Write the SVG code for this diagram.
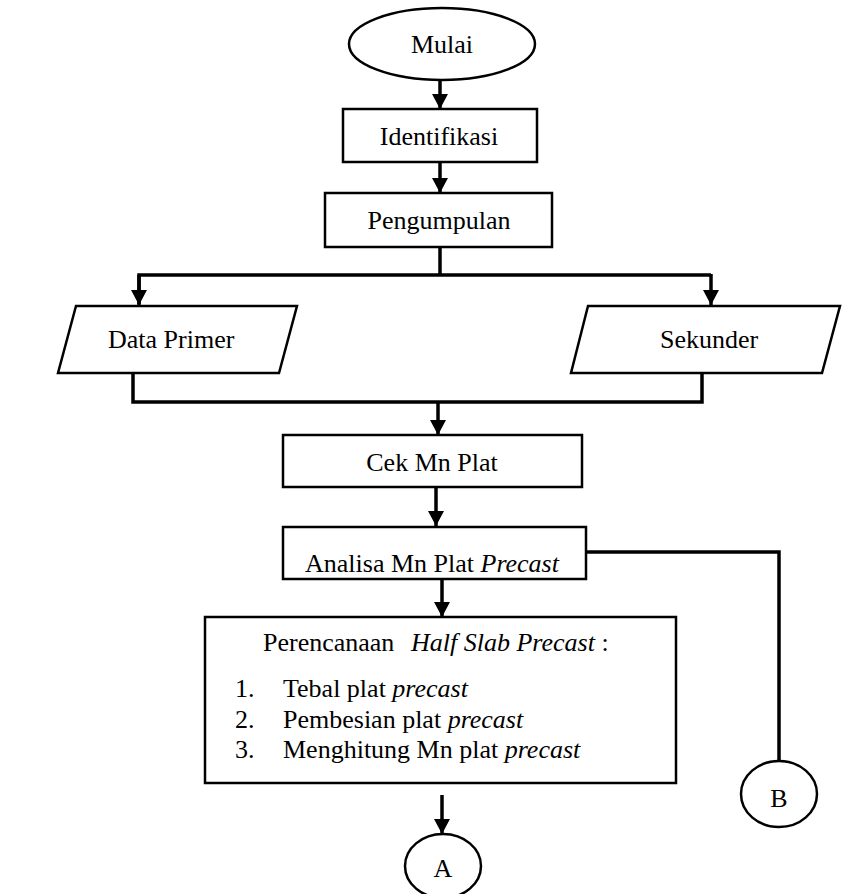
<svg xmlns="http://www.w3.org/2000/svg" width="849" height="894" viewBox="0 0 849 894">
<style>
  .shape { fill: #ffffff; stroke: #000000; stroke-width: 2.5; }
  .conn { fill: none; stroke: #000000; stroke-width: 3.5; }
  text { font-family: "Liberation Serif", "Times New Roman", serif; font-size: 26px; fill: #000000; }
  .c { text-anchor: middle; }
  .it { font-style: italic; }
</style>
<defs>
  <marker id="arrow" markerUnits="userSpaceOnUse" markerWidth="16" markerHeight="16" viewBox="0 0 16 16" refX="15" refY="8" orient="auto">
    <path d="M0,0 L15,8 L0,16 Z" fill="#000000"/>
  </marker>
</defs>
<rect width="849" height="894" fill="#ffffff"/>

<g id="connectors">
  <line class="conn" x1="440" y1="80" x2="440" y2="109" marker-end="url(#arrow)"/>
  <line class="conn" x1="440" y1="162" x2="440" y2="193" marker-end="url(#arrow)"/>
  <polyline class="conn" points="440,247 440,275"/>
  <polyline class="conn" points="139,304 139,275 711,275"/>
  <line class="conn" x1="139" y1="275" x2="139" y2="305" marker-end="url(#arrow)"/>
  <line class="conn" x1="711" y1="274" x2="711" y2="305" marker-end="url(#arrow)"/>
  <polyline class="conn" points="133,373 133,402 702,402 702,373"/>
  <line class="conn" x1="438" y1="402" x2="438" y2="435" marker-end="url(#arrow)"/>
  <line class="conn" x1="436" y1="487" x2="436" y2="526" marker-end="url(#arrow)"/>
  <line class="conn" x1="442" y1="579" x2="442" y2="617" marker-end="url(#arrow)"/>
  <polyline class="conn" points="586,552 779,552 779,761"/>
  <line class="conn" x1="442" y1="795" x2="442" y2="834" marker-end="url(#arrow)"/>
</g>

<g id="mulai">
  <ellipse class="shape" cx="442" cy="44" rx="93" ry="36"/>
  <text class="c" x="442" y="53">Mulai</text>
</g>
<g id="identifikasi">
  <rect class="shape" x="343" y="109" width="194" height="53"/>
  <text class="c" x="439" y="145">Identifikasi</text>
</g>
<g id="pengumpulan">
  <rect class="shape" x="325" y="193" width="227" height="54"/>
  <text class="c" x="439" y="229">Pengumpulan</text>
</g>
<g id="data-primer">
  <polygon class="shape" points="76,306 297,306 279,373 58,373"/>
  <text x="108" y="348">Data Primer</text>
</g>
<g id="sekunder">
  <polygon class="shape" points="588,306 840,306 822,373 571,373"/>
  <text x="660" y="348">Sekunder</text>
</g>
<g id="cek-mn-plat">
  <rect class="shape" x="283" y="435" width="299" height="52"/>
  <text class="c" x="432" y="471">Cek Mn Plat</text>
</g>
<g id="analisa">
  <rect class="shape" x="283" y="527" width="303" height="52"/>
  <text x="305" y="572">Analisa Mn Plat <tspan class="it">Precast</tspan></text>
</g>
<g id="perencanaan">
  <rect class="shape" x="205" y="617" width="471" height="166"/>
  <text x="263" y="651">Perencanaan<tspan class="it" x="411">Half Slab Precast</tspan> :</text>
  <text x="235" y="697">1.</text>
  <text x="283" y="697">Tebal plat <tspan class="it">precast</tspan></text>
  <text x="235" y="728">2.</text>
  <text x="283" y="728">Pembesian plat <tspan class="it">precast</tspan></text>
  <text x="235" y="758">3.</text>
  <text x="283" y="758">Menghitung Mn plat <tspan class="it">precast</tspan></text>
</g>
<g id="connector-b">
  <ellipse class="shape" cx="779" cy="794" rx="38" ry="33"/>
  <text class="c" x="779" y="807">B</text>
</g>
<g id="connector-a">
  <ellipse class="shape" cx="443" cy="866" rx="38" ry="32"/>
  <text class="c" x="443" y="877">A</text>
</g>
</svg>
